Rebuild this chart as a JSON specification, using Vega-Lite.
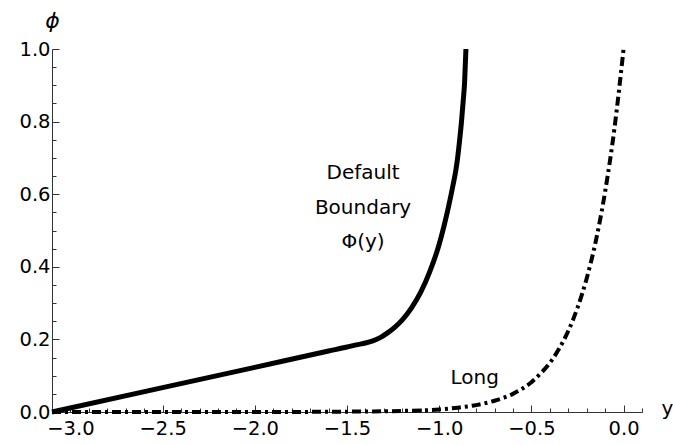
{
  "$schema": "https://vega.github.io/schema/vega-lite/v6.json",
  "width": 590,
  "height": 363,
  "autosize": {"type": "none"},
  "padding": {"left": 52, "top": 49, "right": 31, "bottom": 33},
  "background": "white",
  "config": {
    "view": {"stroke": null},
    "axis": {
      "grid": false,
      "labelFont": "DejaVu Sans",
      "labelFontSize": 19.5,
      "labelColor": "#000",
      "domainColor": "#333",
      "tickColor": "#333",
      "domainWidth": 1,
      "tickWidth": 1,
      "titleFont": "DejaVu Sans",
      "titleFontWeight": "normal",
      "titleColor": "#000"
    }
  },
  "datasets": {
    "boundary": [
      {"x": -3.1, "y": 0.0},
      {"x": -2.5, "y": 0.067},
      {"x": -2.0, "y": 0.123},
      {"x": -1.6, "y": 0.168},
      {"x": -1.5, "y": 0.179},
      {"x": -1.45, "y": 0.185},
      {"x": -1.4, "y": 0.19},
      {"x": -1.36, "y": 0.196},
      {"x": -1.32, "y": 0.205},
      {"x": -1.28, "y": 0.218},
      {"x": -1.24, "y": 0.234},
      {"x": -1.2, "y": 0.254},
      {"x": -1.15, "y": 0.287},
      {"x": -1.1, "y": 0.33},
      {"x": -1.05, "y": 0.388},
      {"x": -1.0, "y": 0.462},
      {"x": -0.975, "y": 0.51},
      {"x": -0.95, "y": 0.564},
      {"x": -0.925, "y": 0.625},
      {"x": -0.91, "y": 0.665},
      {"x": -0.9, "y": 0.7},
      {"x": -0.89, "y": 0.745},
      {"x": -0.88, "y": 0.795},
      {"x": -0.87, "y": 0.855},
      {"x": -0.862, "y": 0.91},
      {"x": -0.855, "y": 1.0}
    ],
    "long": [
      {"x": -3.1, "y": 0.0},
      {"x": -2.0, "y": 0.0},
      {"x": -1.5, "y": 0.001},
      {"x": -1.2, "y": 0.003},
      {"x": -1.0, "y": 0.007},
      {"x": -0.9, "y": 0.012},
      {"x": -0.8, "y": 0.019},
      {"x": -0.7, "y": 0.031},
      {"x": -0.6, "y": 0.05},
      {"x": -0.5, "y": 0.082},
      {"x": -0.45, "y": 0.106},
      {"x": -0.4, "y": 0.135},
      {"x": -0.35, "y": 0.174},
      {"x": -0.3, "y": 0.223},
      {"x": -0.25, "y": 0.287},
      {"x": -0.2, "y": 0.368},
      {"x": -0.15, "y": 0.472},
      {"x": -0.1, "y": 0.607},
      {"x": -0.05, "y": 0.779},
      {"x": 0.0, "y": 1.0}
    ],
    "labels": [
      {"x": -1.413, "y": 0.658, "text": "Default"},
      {"x": -1.413, "y": 0.562, "text": "Boundary"},
      {"x": -1.413, "y": 0.468, "text": "Φ(y)"},
      {"x": -0.807, "y": 0.094, "text": "Long"}
    ]
  },
  "resolve": {"axis": {"x": "independent", "y": "independent"}},
  "layer": [
    {
      "data": {"name": "boundary"},
      "mark": {"type": "line", "color": "#000", "strokeWidth": 5, "strokeCap": "butt", "interpolate": "monotone"},
      "encoding": {
        "x": {
          "field": "x",
          "type": "quantitative",
          "scale": {"domain": [-3.1, 0.1], "nice": false, "zero": false},
          "axis": {
            "orient": "bottom",
            "values": [-3.0, -2.5, -2.0, -1.5, -1.0, -0.5, 0.0],
            "format": ".1f",
            "tickSize": -7,
            "labelPadding": 14,
            "labelOverlap": false,
            "labelFlush": false,
            "labelBound": false,
            "title": "y",
            "titleX": 615,
            "titleY": 2,
            "titleAlign": "center",
            "titleBaseline": "alphabetic",
            "titleFontSize": 20,
            "titleAngle": 0
          }
        },
        "y": {
          "field": "y",
          "type": "quantitative",
          "scale": {"domain": [0, 1], "nice": false},
          "axis": {
            "orient": "left",
            "values": [0.0, 0.2, 0.4, 0.6, 0.8, 1.0],
            "format": ".1f",
            "tickSize": -7,
            "labelPadding": 9,
            "labelOverlap": false,
            "labelFlush": false,
            "labelBound": false,
            "title": "ϕ",
            "titleAngle": 0,
            "titleX": 0,
            "titleY": -29,
            "titleAlign": "center",
            "titleBaseline": "middle",
            "titleFontStyle": "italic",
            "titleFontSize": 22
          }
        }
      }
    },
    {
      "data": {"name": "long"},
      "mark": {"type": "line", "color": "#000", "strokeWidth": 4, "strokeDash": [9, 4, 3, 4], "strokeCap": "butt", "interpolate": "monotone"},
      "encoding": {
        "x": {
          "field": "x",
          "type": "quantitative",
          "axis": {
            "orient": "bottom",
            "values": [-2.9, -2.8, -2.7, -2.6, -2.4, -2.3, -2.2, -2.1, -1.9, -1.8, -1.7, -1.6, -1.4, -1.3, -1.2, -1.1, -0.9, -0.8, -0.7, -0.6, -0.4, -0.3, -0.2, -0.1, 0.1],
            "tickSize": -4,
            "labels": false,
            "domain": false,
            "title": null
          }
        },
        "y": {
          "field": "y",
          "type": "quantitative",
          "axis": {
            "orient": "left",
            "values": [0.05, 0.1, 0.15, 0.25, 0.3, 0.35, 0.45, 0.5, 0.55, 0.65, 0.7, 0.75, 0.85, 0.9, 0.95],
            "tickSize": -4,
            "labels": false,
            "domain": false,
            "title": null
          }
        }
      }
    },
    {
      "data": {"name": "labels"},
      "mark": {"type": "text", "font": "DejaVu Sans", "fontSize": 20, "align": "center", "baseline": "middle", "color": "#000"},
      "encoding": {
        "x": {"field": "x", "type": "quantitative", "axis": null},
        "y": {"field": "y", "type": "quantitative", "axis": null},
        "text": {"field": "text"}
      }
    }
  ]
}
